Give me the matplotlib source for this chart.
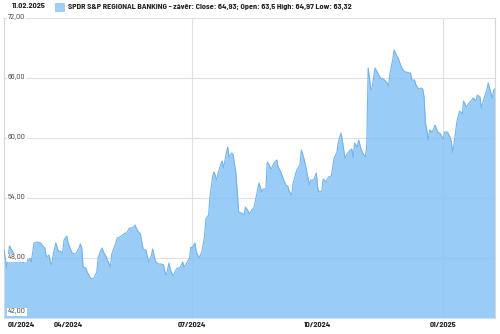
import matplotlib
matplotlib.use("Agg")
import matplotlib.pyplot as plt
import pandas as pd

plt.rcParams['font.family'] = ['Barlow Semi Condensed', 'Liberation Sans', 'DejaVu Sans']

dates = [
    "2024-02-14", "2024-02-16", "2024-02-18", "2024-02-21", "2024-02-23", "2024-02-26", "2024-02-28",
    "2024-03-01", "2024-03-03", "2024-03-04", "2024-03-05", "2024-03-07", "2024-03-09", "2024-03-12",
    "2024-03-14", "2024-03-15", "2024-03-16", "2024-03-18", "2024-03-19", "2024-03-20", "2024-03-21",
    "2024-03-23", "2024-03-25", "2024-03-26", "2024-03-28", "2024-03-29", "2024-03-31",
    "2024-04-01", "2024-04-03", "2024-04-04", "2024-04-06", "2024-04-07", "2024-04-09", "2024-04-10",
    "2024-04-11", "2024-04-12", "2024-04-14", "2024-04-15", "2024-04-17", "2024-04-18", "2024-04-20",
    "2024-04-22", "2024-04-23", "2024-04-25", "2024-04-26", "2024-04-27", "2024-04-29",
    "2024-05-02", "2024-05-03", "2024-05-06", "2024-05-07", "2024-05-09", "2024-05-11", "2024-05-13",
    "2024-05-14", "2024-05-16", "2024-05-18", "2024-05-19", "2024-05-20", "2024-05-22", "2024-05-24",
    "2024-05-25", "2024-05-26", "2024-05-28", "2024-05-30",
    "2024-06-01", "2024-06-02", "2024-06-04", "2024-06-06", "2024-06-08", "2024-06-10", "2024-06-11",
    "2024-06-12", "2024-06-14", "2024-06-15", "2024-06-17", "2024-06-19", "2024-06-20", "2024-06-22",
    "2024-06-24", "2024-06-25", "2024-06-27", "2024-06-29", "2024-06-30",
    "2024-07-01", "2024-07-03", "2024-07-04", "2024-07-06", "2024-07-08", "2024-07-10", "2024-07-11",
    "2024-07-13", "2024-07-14", "2024-07-16", "2024-07-17", "2024-07-19", "2024-07-20", "2024-07-22",
    "2024-07-23", "2024-07-24", "2024-07-26", "2024-07-27", "2024-07-28", "2024-07-30", "2024-07-31",
    "2024-08-02", "2024-08-03", "2024-08-04", "2024-08-06", "2024-08-08", "2024-08-09", "2024-08-11",
    "2024-08-12", "2024-08-14", "2024-08-15", "2024-08-17", "2024-08-18", "2024-08-19", "2024-08-21",
    "2024-08-22", "2024-08-24", "2024-08-25", "2024-08-26", "2024-08-28", "2024-08-29", "2024-08-30",
    "2024-09-01", "2024-09-02", "2024-09-04", "2024-09-06", "2024-09-08", "2024-09-09", "2024-09-10",
    "2024-09-12", "2024-09-13", "2024-09-15", "2024-09-16", "2024-09-18", "2024-09-19", "2024-09-21",
    "2024-09-23", "2024-09-25", "2024-09-26", "2024-09-28", "2024-09-30",
    "2024-10-01", "2024-10-02", "2024-10-04", "2024-10-05", "2024-10-07", "2024-10-09", "2024-10-11",
    "2024-10-13", "2024-10-15", "2024-10-16", "2024-10-18", "2024-10-19", "2024-10-21", "2024-10-23",
    "2024-10-25", "2024-10-26", "2024-10-27", "2024-10-28", "2024-10-30", "2024-10-31",
    "2024-11-02", "2024-11-03", "2024-11-05", "2024-11-06", "2024-11-07", "2024-11-09", "2024-11-10",
    "2024-11-12", "2024-11-14", "2024-11-16", "2024-11-18", "2024-11-19", "2024-11-21", "2024-11-22",
    "2024-11-23", "2024-11-25", "2024-11-26", "2024-11-28", "2024-11-29", "2024-11-30",
    "2024-12-02", "2024-12-04", "2024-12-05", "2024-12-07", "2024-12-08", "2024-12-09", "2024-12-11",
    "2024-12-12", "2024-12-14", "2024-12-16", "2024-12-17", "2024-12-18", "2024-12-19", "2024-12-20",
    "2024-12-21", "2024-12-22", "2024-12-24", "2024-12-25", "2024-12-26", "2024-12-28", "2024-12-30",
    "2025-01-01", "2025-01-02", "2025-01-04", "2025-01-06", "2025-01-07", "2025-01-08", "2025-01-10",
    "2025-01-11", "2025-01-13", "2025-01-15", "2025-01-16", "2025-01-18", "2025-01-20", "2025-01-22",
    "2025-01-23", "2025-01-25", "2025-01-26", "2025-01-28", "2025-01-29", "2025-01-31",
    "2025-02-02", "2025-02-03", "2025-02-04", "2025-02-06", "2025-02-07", "2025-02-08",
]

close = [
    48.8, 47.0, 49.2, 48.5, 47.6, 47.8, 47.5,
    48.0, 47.7, 48.0, 47.6, 49.5, 49.6, 49.5, 49.1, 49.0, 48.1, 48.3, 47.6, 47.3, 48.3,
    49.5, 48.6, 48.7, 48.5, 49.8, 50.2,
    49.5, 48.8, 48.5, 48.4, 48.5, 49.0, 49.4, 49.0, 47.1, 47.0, 46.6, 46.1, 45.9, 46.0,
    46.6, 48.0, 48.8, 49.0, 48.6, 48.1,
    47.1, 48.4, 49.5, 50.0, 50.1, 50.3, 50.5, 50.5, 51.0, 51.0, 51.1, 51.3, 50.7, 50.4,
    49.6, 48.9, 48.8, 47.6,
    48.2, 48.9, 47.7, 47.4, 47.4, 47.3, 46.6, 46.3, 47.5, 46.8, 46.2, 46.8, 47.0, 47.0,
    47.6, 47.1, 47.5, 48.0, 49.1,
    49.0, 49.5, 48.6, 48.0, 48.6, 50.1, 51.9, 52.3, 54.1, 56.2, 56.6, 55.8, 56.5, 57.4,
    57.7, 57.0, 58.5, 59.1, 58.1, 58.5, 58.3,
    56.5, 54.7, 52.6, 52.5, 52.3, 53.1, 52.7, 52.4, 52.9, 52.9, 54.2, 54.8, 55.5, 54.6,
    54.9, 54.9, 57.6, 57.4, 56.9, 57.2, 57.5,
    57.8, 57.1, 56.6, 55.8, 55.2, 55.2, 54.7, 54.3, 55.5, 56.5, 56.9, 57.3, 58.8, 57.9,
    56.6, 55.3, 55.8, 55.8, 56.5,
    55.0, 54.6, 54.7, 55.9, 55.6, 56.1, 56.2, 58.0, 58.5, 59.5, 60.5, 59.8, 58.0, 58.5,
    58.8, 58.9, 58.0, 59.5, 59.1, 59.8,
    58.8, 58.5, 58.1, 59.4, 67.0, 64.8, 65.1, 67.0, 66.5, 66.0, 65.9, 65.8, 65.5, 65.2,
    66.5, 67.8, 68.8, 68.2, 68.0, 67.6,
    66.9, 66.6, 66.6, 66.5, 66.5, 65.8, 65.8, 65.3, 64.9, 65.0, 64.9, 64.1, 61.5, 60.8,
    59.8, 60.8, 60.6, 60.9, 61.3, 60.6, 60.4,
    59.9, 60.6, 60.6, 60.1, 59.6, 58.5, 60.5, 61.6, 62.7, 62.4, 63.7, 63.1, 63.5, 63.8,
    64.0, 63.7, 64.3, 64.1, 63.0, 64.0,
    64.8, 65.5, 65.0, 64.0, 64.8, 64.93,
]

y_ticks = [42, 48, 54, 60, 66, 72]
y_tick_labels = ["42,00", "48,00", "54,00", "60,00", "66,00", "72,00"]
x_tick_dates = ["2024-04-01", "2024-07-01", "2024-10-01", "2025-01-01"]
x_tick_labels = ["04/2024", "07/2024", "10/2024", "01/2025"]
x_grid_dates = ["2024-07-01", "2025-01-01"]
first_label = "01/2024"
header_date = "11.02.2025"
legend_text = "SPDR S&P REGIONAL BANKING - závěr: Close: 64,93; Open: 63,5 High: 64,97 Low: 63,32"

d = pd.to_datetime(dates)

fig = plt.figure(figsize=(5.0, 3.34), dpi=100)
ax = fig.add_axes([4 / 500, 16 / 334, 491 / 500, 300 / 334])

ymin, ymax = 42, 72
ax.set_ylim(ymin, ymax)
ax.set_xlim(d[0], d[-1])

for yt in y_ticks[1:]:
    ax.axhline(yt, color="#e0e0e0", lw=0.8, zorder=1)
for gd in x_grid_dates:
    ax.axvline(pd.Timestamp(gd), color="#e0e0e0", lw=0.8, zorder=1)

fill_rgb = (135 / 255, 195 / 255, 246 / 255)
ax.fill_between(d, close, ymin, color=fill_rgb, alpha=0.85, lw=0, zorder=2)
ax.plot(d, close, color="#74b3ea", lw=0.8, zorder=3)

for s in ["top", "bottom"]:
    ax.spines[s].set_visible(False)
for s in ["left", "right"]:
    ax.spines[s].set_color("#d8d8d8")
    ax.spines[s].set_linewidth(0.8)

ax.set_xticks([])
ax.set_yticks([])

fs = 5.9
for yt, lab in zip(y_ticks, y_tick_labels):
    va = "center"
    yy = yt
    if yt == ymin:
        yy = yt + 0.25
        va = "bottom"
    ax.text(0.008, yy, lab, transform=ax.get_yaxis_transform(), fontsize=fs,
            color="#404040", ha="left", va=va, zorder=5,
            bbox=dict(boxstyle="square,pad=0.12", fc="white", ec="none"))

tr = ax.get_xaxis_transform()
for xd, lab in zip(x_tick_dates, x_tick_labels):
    ax.text(pd.Timestamp(xd), -0.012, lab, transform=tr, fontsize=fs, fontweight="bold",
            color="#222222", ha="center", va="top")
ax.text(0.008, -0.012, first_label, transform=ax.transAxes, fontsize=fs, fontweight="bold",
        color="#222222", ha="left", va="top")

fig.text(12 / 500, 1 - 6.5 / 334, header_date, fontsize=fs, fontweight="bold",
         color="#222222", ha="left", va="center")
fig.patches.append(plt.Rectangle((55 / 500, 1 - 11 / 334), 8.5 / 500, 8.5 / 334,
                                 transform=fig.transFigure, facecolor="#9fcff7",
                                 edgecolor="#8cc0ee", lw=0.5))
fig.text(68 / 500, 1 - 6.5 / 334, legend_text, fontsize=fs, fontweight="bold",
         color="#222222", ha="left", va="center")

fig.savefig("out.png", dpi=100)
